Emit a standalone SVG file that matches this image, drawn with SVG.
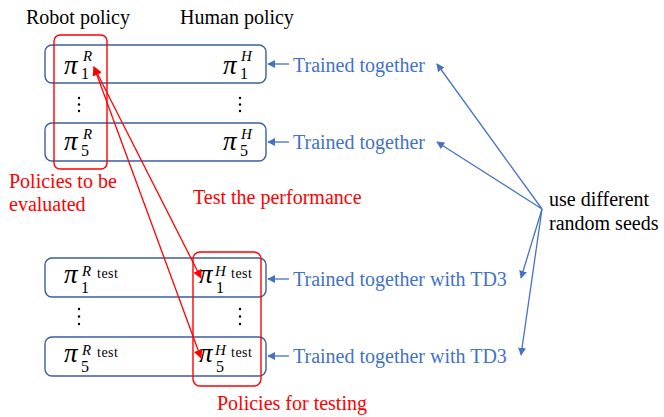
<svg xmlns="http://www.w3.org/2000/svg" width="664" height="417" viewBox="0 0 664 417" font-family="'Liberation Serif', 'DejaVu Serif', serif">
<defs>
<style>
.t{font-size:20px;fill:#000;}
.b{font-size:20px;fill:#4472C4;}
.r{font-size:20px;fill:#FF0000;}
.pi{font-size:27px;font-style:italic;}
.sup{font-size:15px;font-style:italic;}
.sub{font-size:16px;}
.tst{font-size:14px;letter-spacing:0.5px;}
.box{fill:none;stroke:#3B5F9E;stroke-width:1.4;}
.rbox{fill:none;stroke:#FF0000;stroke-width:1.4;}
.bl{stroke:#4472C4;stroke-width:1.3;fill:none;}
.rl{stroke:#FF0000;stroke-width:1.3;fill:none;}
.dot{fill:#000;}
</style>
<marker id="ba" viewBox="0 0 10 10" refX="9" refY="5" markerWidth="8" markerHeight="8" markerUnits="userSpaceOnUse" orient="auto-start-reverse"><path d="M0,0 L10,5 L0,10 z" fill="#4472C4"/></marker>
<marker id="ra" viewBox="0 0 10 10" refX="9" refY="5" markerWidth="9" markerHeight="9" markerUnits="userSpaceOnUse" orient="auto-start-reverse"><path d="M0,0 L10,5 L0,10 z" fill="#FF0000"/></marker>
</defs>

<text class="t" x="26" y="24">Robot policy</text>
<text class="t" x="180" y="24">Human policy</text>

<g id="pair1">
<rect class="box" x="45" y="45" width="221" height="38" rx="7"/>
<text class="pi" x="64" y="74">π</text><text class="sub" x="81" y="79">1</text><text class="sup" x="83" y="61">R</text>
<text class="pi" x="223" y="74">π</text><text class="sub" x="240" y="79">1</text><text class="sup" x="241" y="61">H</text>
</g>
<g id="dots1">
<circle class="dot" cx="79" cy="98" r="1.2"/><circle class="dot" cx="79" cy="104.5" r="1.2"/><circle class="dot" cx="79" cy="111" r="1.2"/>
<circle class="dot" cx="240" cy="98" r="1.2"/><circle class="dot" cx="240" cy="104.5" r="1.2"/><circle class="dot" cx="240" cy="111" r="1.2"/>
</g>
<g id="pair5">
<rect class="box" x="45" y="123" width="221" height="38" rx="7"/>
<text class="pi" x="64" y="150">π</text><text class="sub" x="81" y="156">5</text><text class="sup" x="83" y="139">R</text>
<text class="pi" x="223" y="150">π</text><text class="sub" x="240" y="156">5</text><text class="sup" x="241" y="139">H</text>
</g>

<g id="pair1test">
<rect class="box" x="45" y="258" width="221" height="39" rx="7"/>
<text class="pi" x="64" y="283">π</text><text class="sub" x="81" y="293">1</text><text class="sup" x="82" y="276">R</text><text class="tst" x="97" y="278">test</text>
<text class="pi" x="199" y="283">π</text><text class="sub" x="216" y="293">1</text><text class="sup" x="215" y="276">H</text><text class="tst" x="231" y="278">test</text>
</g>
<g id="dots2">
<circle class="dot" cx="79" cy="309" r="1.2"/><circle class="dot" cx="79" cy="316.5" r="1.2"/><circle class="dot" cx="79" cy="324" r="1.2"/>
<circle class="dot" cx="240" cy="309" r="1.2"/><circle class="dot" cx="240" cy="316.5" r="1.2"/><circle class="dot" cx="240" cy="324" r="1.2"/>
</g>
<g id="pair5test">
<rect class="box" x="45" y="337" width="221" height="39" rx="7"/>
<text class="pi" x="64" y="362">π</text><text class="sub" x="81" y="372">5</text><text class="sup" x="82" y="355">R</text><text class="tst" x="97" y="357">test</text>
<text class="pi" x="199" y="362">π</text><text class="sub" x="216" y="372">5</text><text class="sup" x="215" y="355">H</text><text class="tst" x="231" y="357">test</text>
</g>

<g id="evaluated">
<rect class="rbox" x="54" y="35" width="53" height="134" rx="6"/>
<text class="r" x="9" y="188">Policies to be</text>
<text class="r" x="9" y="211">evaluated</text>
</g>
<g id="testing">
<rect class="rbox" x="193" y="252" width="68" height="134" rx="7"/>
<text class="r" x="217" y="410">Policies for testing</text>
</g>
<text class="r" x="193" y="204">Test the performance</text>

<g id="labels">
<text class="b" x="293" y="72">Trained together</text>
<text class="b" x="293" y="149">Trained together</text>
<text class="b" x="293" y="286">Trained together with TD3</text>
<text class="b" x="293" y="363">Trained together with TD3</text>
<text class="t" x="549" y="206">use different</text>
<text class="t" x="549" y="230">random seeds</text>
</g>

<g id="connectors">
<line class="bl" x1="289" y1="64" x2="268" y2="64" marker-end="url(#ba)"/>
<line class="bl" x1="289" y1="142" x2="268" y2="142" marker-end="url(#ba)"/>
<line class="bl" x1="289" y1="279" x2="268" y2="279" marker-end="url(#ba)"/>
<line class="bl" x1="289" y1="356" x2="268" y2="356" marker-end="url(#ba)"/>
<line class="bl" x1="542" y1="209" x2="437" y2="64" marker-end="url(#ba)"/>
<line class="bl" x1="542" y1="209" x2="437" y2="142" marker-end="url(#ba)"/>
<line class="bl" x1="542" y1="209" x2="521" y2="278" marker-end="url(#ba)"/>
<line class="bl" x1="542" y1="209" x2="521" y2="355" marker-end="url(#ba)"/>
<line class="rl" x1="94" y1="67" x2="201" y2="278" marker-start="url(#ra)" marker-end="url(#ra)"/>
<line class="rl" x1="94" y1="67" x2="201" y2="358" marker-start="url(#ra)" marker-end="url(#ra)"/>
</g>
</svg>
